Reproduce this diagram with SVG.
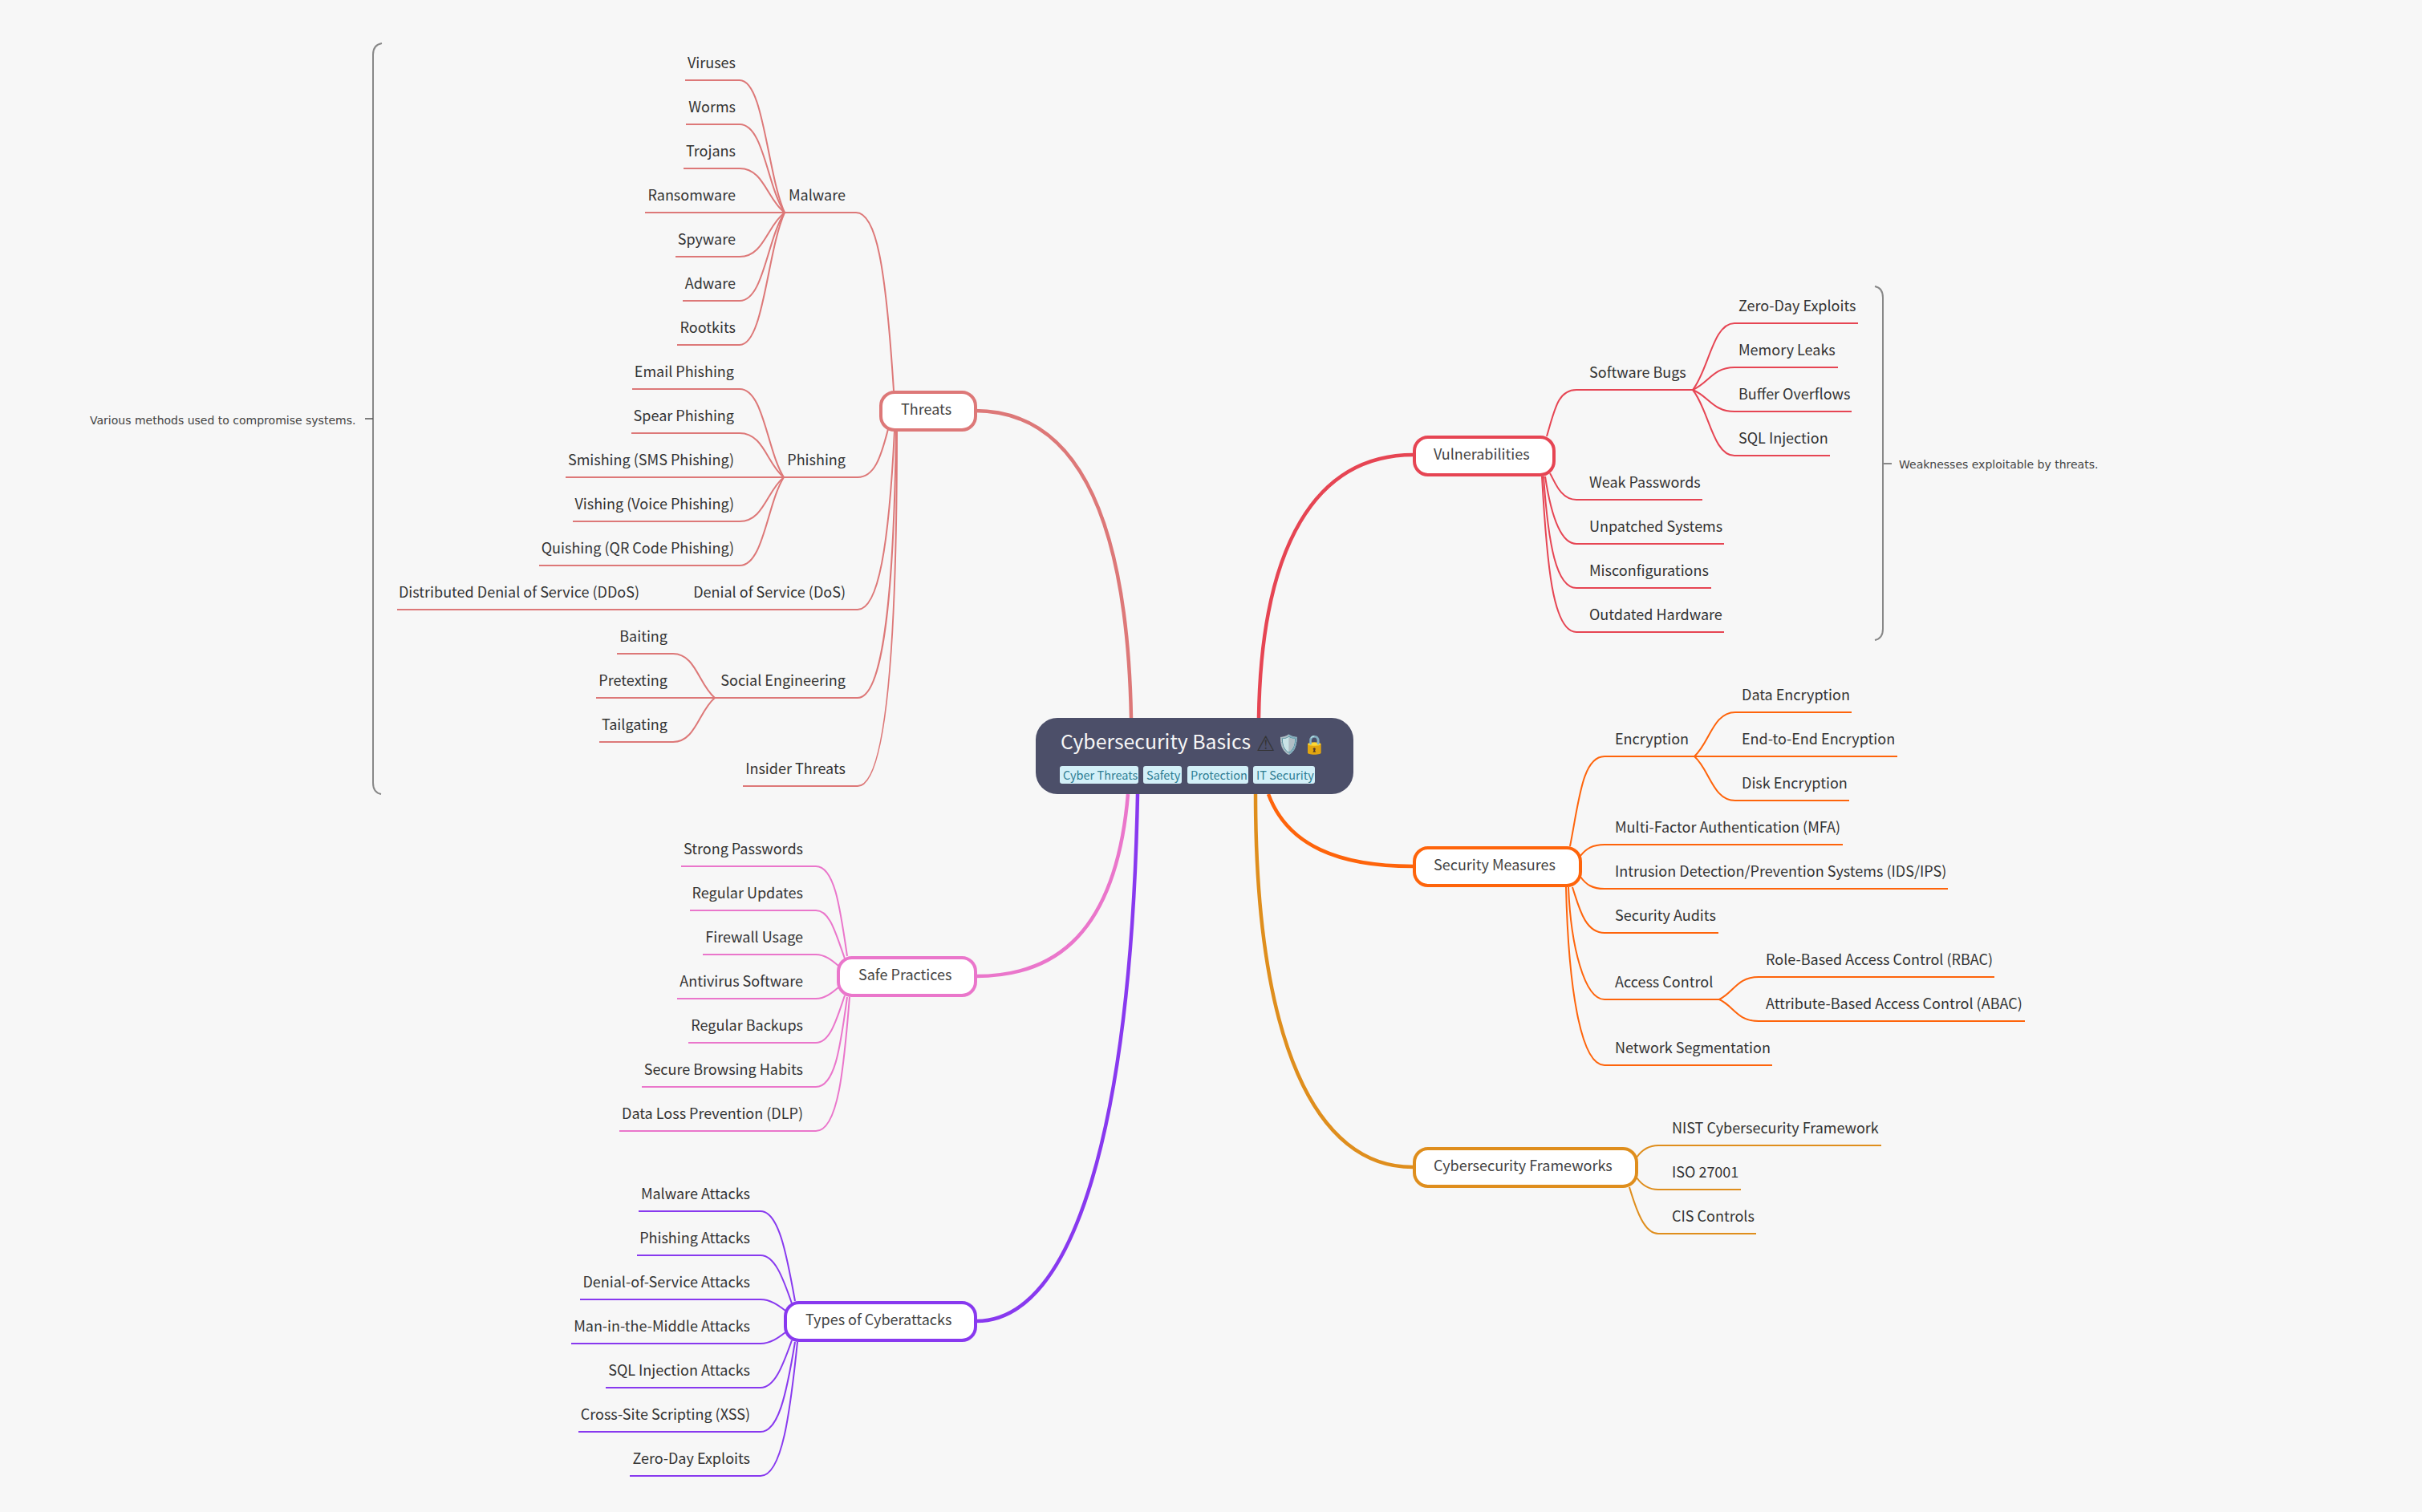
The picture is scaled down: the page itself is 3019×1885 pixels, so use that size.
<svg xmlns="http://www.w3.org/2000/svg" width="3019" height="1885" viewBox="0 0 3019 1885">
<style>
text{font-family:"Noto Sans CJK SC","Noto Sans",sans-serif;font-size:18px;font-weight:400;fill:#333}
.e{text-anchor:end}
.n{fill:#444}
.s{font-family:"DejaVu Sans",sans-serif;font-size:14px;font-weight:400;fill:#444}
.tag{font-size:14.5px;fill:#2e7d93;font-weight:400}
path{fill:none;stroke-width:2}
.root{stroke-width:4.5}
.box{fill:#fff;stroke-width:4}
.brace{stroke:#888;stroke-width:2}
.t{stroke:#dd7878}.v{stroke:#e64553}.m{stroke:#fe640b}.f{stroke:#df8e1d}.p{stroke:#ea76cb}.a{stroke:#8839ef}
</style>
<rect width="3019" height="1885" fill="#f7f7f7"/>
<g id="connectors">
<g class="t">
<path class="root" d="M1215 512C1340 512 1405 640 1410 895"/>
<path d="M978 265H1067C1092 265 1104 330 1114 487"/>
<path d="M977 595H1069C1090 595 1098 570 1107 535"/>
<path d="M495 760H1069C1095 760 1108 680 1115 537"/>
<path d="M890 870H1069C1100 870 1114 750 1117 537"/>
<path d="M926 980H1069C1105 980 1118 800 1118 537"/>
<path d="M854 100H922C952 100 956 215.5 978 265"/>
<path d="M855 155H922C952 155 956 232 978 265"/>
<path d="M852 210H922C952 210 956 248.5 978 265"/>
<path d="M804 265H978"/>
<path d="M842 320H922C952 320 956 281.5 978 265"/>
<path d="M851 375H922C952 375 956 298 978 265"/>
<path d="M844 430H922C952 430 956 314.5 978 265"/>
<path d="M788 485H922C952 485 956 562 977 595"/>
<path d="M787 540H922C952 540 956 578.5 977 595"/>
<path d="M705 595H977"/>
<path d="M714 650H922C952 650 956 611.5 977 595"/>
<path d="M672 705H922C952 705 956 628 977 595"/>
<path d="M769 815H839C867 815 871 853.5 891 870"/>
<path d="M743 870H891"/>
<path d="M747 925H839C867 925 871 886.5 891 870"/>
</g>
<g class="v">
<path class="root" d="M1762 567C1640 567 1572 680 1569 895"/>
<path d="M1928 544C1938 510 1942 486 1965 486H2110"/>
<path d="M2122 623H1965C1945 623 1938 600 1932 590"/>
<path d="M2149 678H1965C1945 678 1933 640 1926 594"/>
<path d="M2133 733H1965C1940 733 1930 680 1924 594"/>
<path d="M2149 788H1965C1935 788 1928 700 1922 594"/>
<path d="M2316 403H2162C2135 403 2130 461 2110 486"/>
<path d="M2291 458H2162C2135 458 2130 477.6 2110 486"/>
<path d="M2308 513H2162C2135 513 2130 494 2110 486"/>
<path d="M2281 568H2162C2135 568 2130 510.6 2110 486"/>
</g>
<g class="m">
<path class="root" d="M1761 1080C1670 1080 1605 1055 1581 990"/>
<path d="M1957 1055C1968 1000 1972 943 2000 943H2112"/>
<path d="M2308 888H2163C2135 888 2131 926.5 2112 943"/>
<path d="M2365 943H2112"/>
<path d="M2305 998H2163C2135 998 2131 959.5 2112 943"/>
<path d="M2297 1053H2000C1985 1053 1977 1058 1970 1067"/>
<path d="M2428 1108H2000C1985 1108 1977 1103 1970 1093"/>
<path d="M2142 1163H2000C1975 1163 1968 1130 1960 1106"/>
<path d="M2143 1246H2000C1975 1246 1958 1180 1955 1106"/>
<path d="M2209 1328H2000C1970 1328 1955 1230 1952 1106"/>
<path d="M2486 1218H2192C2165 1218 2161 1237.6 2143 1246"/>
<path d="M2524 1273H2192C2165 1273 2161 1254 2143 1246"/>
</g>
<g class="f">
<path class="root" d="M1761 1455C1640 1455 1565 1300 1565 990"/>
<path d="M2345 1428H2067C2055 1428 2047 1433 2040 1443"/>
<path d="M2170 1483H2067C2055 1483 2047 1478 2040 1468"/>
<path d="M2189 1538H2067C2050 1538 2040 1510 2031 1480"/>
</g>
<g class="p">
<path class="root" d="M1217 1217C1300 1217 1390 1180 1406 990"/>
<path d="M849 1080H1017C1040 1080 1047 1130 1056 1192"/>
<path d="M860 1135H1017C1035 1135 1042 1165 1053 1195"/>
<path d="M876 1190H1017C1028 1190 1037 1197 1045 1204"/>
<path d="M844 1245H1017C1028 1245 1037 1238 1045 1231"/>
<path d="M858 1300H1017C1035 1300 1043 1270 1053 1241"/>
<path d="M800 1355H1017C1040 1355 1047 1310 1056 1243"/>
<path d="M772 1410H1017C1045 1410 1052 1330 1059 1243"/>
</g>
<g class="a">
<path class="root" d="M1217 1647C1340 1647 1410 1400 1418 990"/>
<path d="M796 1510H948C970 1510 980 1560 991 1622"/>
<path d="M794 1565H948C965 1565 975 1590 987 1625"/>
<path d="M723 1620H948C960 1620 970 1627 979 1634"/>
<path d="M712 1675H948C960 1675 970 1668 979 1661"/>
<path d="M755 1730H948C965 1730 975 1705 987 1671"/>
<path d="M721 1785H948C970 1785 980 1740 991 1673"/>
<path d="M785 1840H948C975 1840 985 1760 994 1673"/>
</g>
<path class="brace" d="M476 54Q465 56 465 68V976Q465 988 475 990"/>
<path class="brace" d="M455 522H465" style="stroke:#555;stroke-width:1.5"/>
<path class="brace" d="M2337 357Q2347 359 2347 371V784Q2347 796 2337 798"/>
<path class="brace" d="M2347 578H2358"/>
</g>
<g id="root">
<rect x="1291" y="895" width="396" height="95" rx="27" fill="#4c4f69"/>
<text x="1322" y="934" style="font-size:24.8px;fill:#f7f7f7">Cybersecurity Basics</text>
<text x="1566" y="936" style="font-size:26px;fill:#333;font-family:'DejaVu Sans','Noto Color Emoji',sans-serif">⚠</text>
<text x="1592" y="936" style="font-size:23px;font-family:'Noto Color Emoji','Noto Sans',sans-serif">🛡️</text>
<text x="1624" y="936" style="font-size:23px;font-family:'Noto Color Emoji','Noto Sans',sans-serif">🔒</text>
<rect x="1321" y="955" width="98" height="22" rx="3" fill="#d3f0f8"/><text class="tag" x="1325" y="972">Cyber Threats</text>
<rect x="1425" y="955" width="48" height="22" rx="3" fill="#d3f0f8"/><text class="tag" x="1429" y="972">Safety</text>
<rect x="1480" y="955" width="76" height="22" rx="3" fill="#d3f0f8"/><text class="tag" x="1484" y="972">Protection</text>
<rect x="1562" y="955" width="77" height="22" rx="3" fill="#d3f0f8"/><text class="tag" x="1566" y="972">IT Security</text>
</g>
<g id="threats">
<rect class="box t" x="1098" y="489" width="118" height="47" rx="17"/><text class="n" x="1123" y="517">Threats</text>
<text class="e" x="1054" y="250">Malware</text>
<text class="e" x="917" y="85">Viruses</text><text class="e" x="917" y="140">Worms</text><text class="e" x="917" y="195">Trojans</text><text class="e" x="917" y="250">Ransomware</text><text class="e" x="917" y="305">Spyware</text><text class="e" x="917" y="360">Adware</text><text class="e" x="917" y="415">Rootkits</text>
<text class="e" x="1054" y="580">Phishing</text>
<text class="e" x="915" y="470">Email Phishing</text><text class="e" x="915" y="525">Spear Phishing</text><text class="e" x="915" y="580">Smishing (SMS Phishing)</text><text class="e" x="915" y="635">Vishing (Voice Phishing)</text><text class="e" x="915" y="690">Quishing (QR Code Phishing)</text>
<text class="e" x="1054" y="745">Denial of Service (DoS)</text><text class="e" x="797" y="745">Distributed Denial of Service (DDoS)</text>
<text class="e" x="1054" y="855">Social Engineering</text>
<text class="e" x="832" y="800">Baiting</text><text class="e" x="832" y="855">Pretexting</text><text class="e" x="832" y="910">Tailgating</text>
<text class="e" x="1054" y="965">Insider Threats</text>
<text class="s" x="112" y="529">Various methods used to compromise systems.</text>
</g>
<g id="vulnerabilities">
<rect class="box v" x="1763" y="545" width="174" height="47" rx="17"/><text class="n" x="1787" y="573">Vulnerabilities</text>
<text x="1981" y="471">Software Bugs</text>
<text x="2167" y="388">Zero-Day Exploits</text><text x="2167" y="443">Memory Leaks</text><text x="2167" y="498">Buffer Overflows</text><text x="2167" y="553">SQL Injection</text>
<text x="1981" y="608">Weak Passwords</text><text x="1981" y="663">Unpatched Systems</text><text x="1981" y="718">Misconfigurations</text><text x="1981" y="773">Outdated Hardware</text>
<text class="s" x="2367" y="584">Weaknesses exploitable by threats.</text>
</g>
<g id="security">
<rect class="box m" x="1763" y="1057" width="207" height="47" rx="17"/><text class="n" x="1787" y="1085">Security Measures</text>
<text x="2013" y="928">Encryption</text>
<text x="2171" y="873">Data Encryption</text><text x="2171" y="928">End-to-End Encryption</text><text x="2171" y="983">Disk Encryption</text>
<text x="2013" y="1038">Multi-Factor Authentication (MFA)</text><text x="2013" y="1093">Intrusion Detection/Prevention Systems (IDS/IPS)</text><text x="2013" y="1148">Security Audits</text>
<text x="2013" y="1231">Access Control</text>
<text x="2201" y="1203">Role-Based Access Control (RBAC)</text><text x="2201" y="1258">Attribute-Based Access Control (ABAC)</text>
<text x="2013" y="1313">Network Segmentation</text>
</g>
<g id="frameworks">
<rect class="box f" x="1763" y="1432" width="277" height="47" rx="17"/><text class="n" x="1787" y="1460">Cybersecurity Frameworks</text>
<text x="2084" y="1413">NIST Cybersecurity Framework</text><text x="2084" y="1468">ISO 27001</text><text x="2084" y="1523">CIS Controls</text>
</g>
<g id="safe">
<rect class="box p" x="1045" y="1194" width="171" height="47" rx="17"/><text class="n" x="1070" y="1222">Safe Practices</text>
<text class="e" x="1001" y="1065">Strong Passwords</text><text class="e" x="1001" y="1120">Regular Updates</text><text class="e" x="1001" y="1175">Firewall Usage</text><text class="e" x="1001" y="1230">Antivirus Software</text><text class="e" x="1001" y="1285">Regular Backups</text><text class="e" x="1001" y="1340">Secure Browsing Habits</text><text class="e" x="1001" y="1395">Data Loss Prevention (DLP)</text>
</g>
<g id="attacks">
<rect class="box a" x="979" y="1624" width="237" height="47" rx="17"/><text class="n" x="1004" y="1652">Types of Cyberattacks</text>
<text class="e" x="935" y="1495">Malware Attacks</text><text class="e" x="935" y="1550">Phishing Attacks</text><text class="e" x="935" y="1605">Denial-of-Service Attacks</text><text class="e" x="935" y="1660">Man-in-the-Middle Attacks</text><text class="e" x="935" y="1715">SQL Injection Attacks</text><text class="e" x="935" y="1770">Cross-Site Scripting (XSS)</text><text class="e" x="935" y="1825">Zero-Day Exploits</text>
</g>
</svg>
